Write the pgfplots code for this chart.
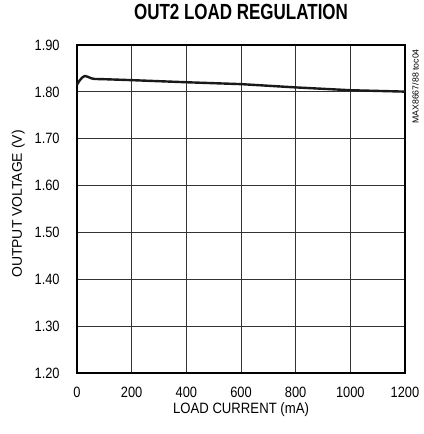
\documentclass[border=0pt]{standalone}
\usepackage{fontspec}
\setmainfont{Liberation Sans}
\usepackage{graphicx}
\usepackage{pgfplots}
\pgfplotsset{compat=1.18}

\begin{document}
\begin{tikzpicture}
% frame of the page: 424 x 434 bp, axis box 328 x 328 bp
\path (-77bp,-61bp) rectangle (347bp,373bp);
\begin{axis}[
  anchor=south west, at={(0,0)},
  scale only axis, width=328bp, height=328bp,
  clip=false,
  xmin=0, xmax=1200, ymin=1.2, ymax=1.9,
  xtick={0,200,400,600,800,1000,1200},
  ytick={1.2,1.3,1.4,1.5,1.6,1.7,1.8,1.9},
  grid=major,
  major grid style={black!80, line width=0.75bp},
  axis line style={line width=2.2bp},
  major tick length=0pt,
  tick label style={font=\fontsize{15}{17}\selectfont, xscale=0.86},
  /pgf/number format/assume math mode=true,
  xticklabel style={anchor=north, inner sep=0pt, yshift=-14bp,
    /pgf/number format/1000 sep={}},
  yticklabel style={anchor=east, inner sep=0pt, xshift=-20bp,
    /pgf/number format/.cd, fixed, fixed zerofill, precision=2},
  xlabel={LOAD CURRENT (mA)},
  xlabel style={font=\fontsize{15}{17}\selectfont, inner sep=0pt,
    at={(axis description cs:0.5,0)}, anchor=north,
    yshift=-29.5bp, xscale=0.88},
  title={\bfseries OUT2 LOAD REGULATION},
  title style={font=\fontsize{22}{24}\selectfont, inner sep=0pt,
    at={(axis description cs:0.5,1)}, anchor=south, yshift=19bp,
    xscale=0.775},
]
\addplot[black!90, line width=2.4bp, line join=round] coordinates {
  (0,1.815) (8,1.823) (18,1.830) (28,1.834) (40,1.832) (52,1.829)
  (64,1.8275) (100,1.827) (200,1.825) (400,1.8205) (600,1.8165)
  (800,1.8095) (1000,1.8035) (1200,1.8005)
};
% y axis label, turned with rotatebox
\node[anchor=east, inner sep=0pt, font=\fontsize{14}{16}\selectfont]
  at ([xshift=-52bp, yshift=5bp]rel axis cs:0,0.5)
  {\rotatebox{90}{OUTPUT VOLTAGE (V)}};
% figure code at the right edge
\node[anchor=north, inner sep=0pt, font=\fontsize{8.8}{10}\selectfont]
  at ([xshift=10.5bp, yshift=-4bp]rel axis cs:1,1)
  {\rotatebox{90}{MAX8667/88 toc04}};
\end{axis}
\end{tikzpicture}
\end{document}
